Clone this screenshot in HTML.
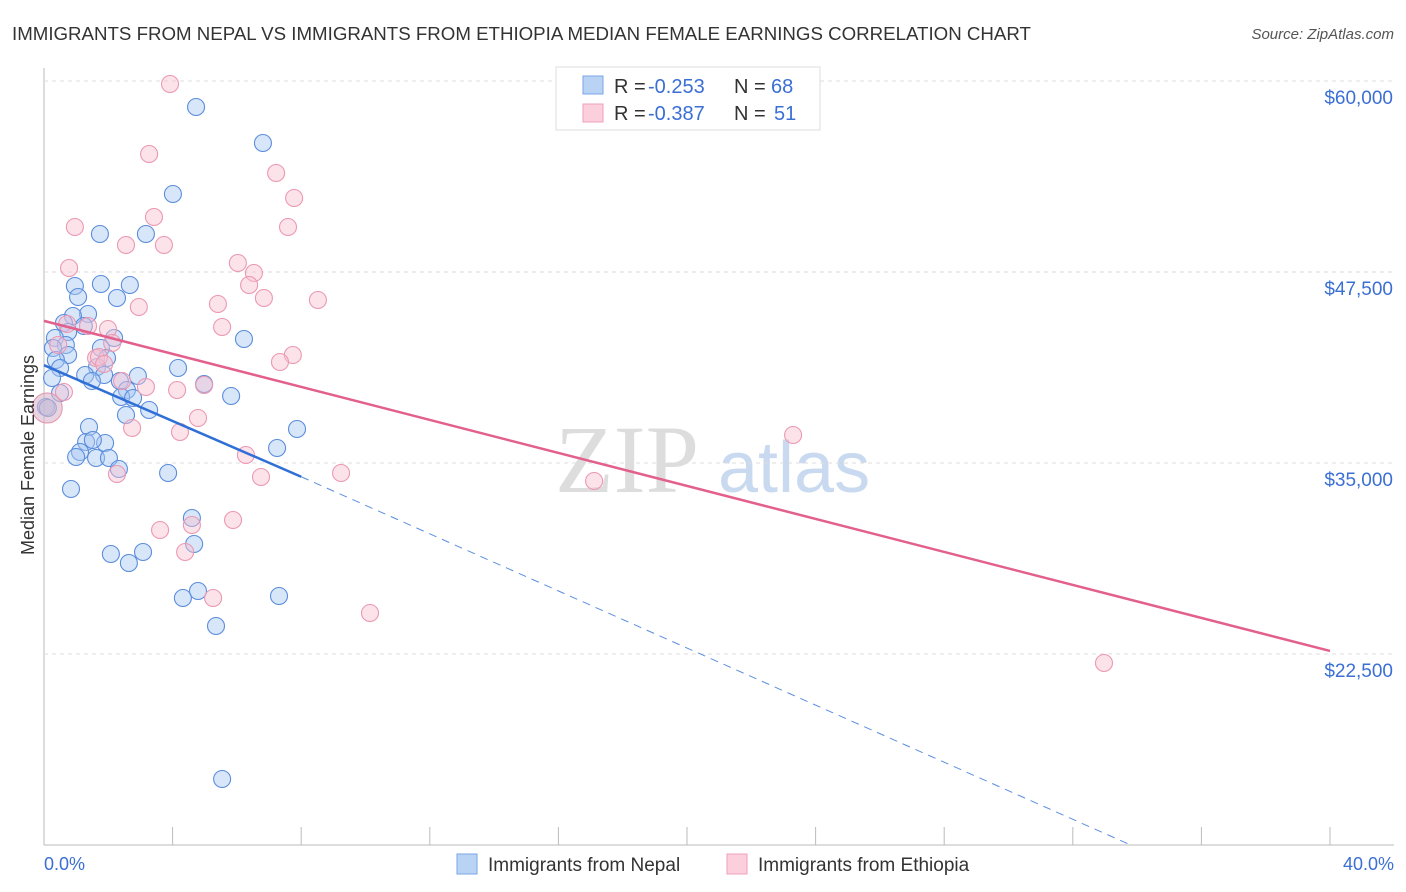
<!DOCTYPE html>
<html><head><meta charset="utf-8"><style>
body{margin:0;background:#fff;font-family:"Liberation Sans",sans-serif;}
svg{display:block}
</style></head><body>
<svg id="chart" width="1406" height="892">
<text x="12" y="40" font-size="18.7" fill="#333">IMMIGRANTS FROM NEPAL VS IMMIGRANTS FROM ETHIOPIA MEDIAN FEMALE EARNINGS CORRELATION CHART</text>
<text x="1394" y="39" font-size="15" fill="#555" font-style="italic" text-anchor="end">Source: ZipAtlas.com</text>
<text x="555" y="492" font-size="96" fill="#ddd" font-family="Liberation Serif">ZIP</text>
<text x="718" y="492" font-size="72" fill="#c9daf0">atlas</text>
<g id="grid"></g><g id="marks"></g>
<text transform="translate(34,455) rotate(-90)" font-size="18" fill="#333" text-anchor="middle">Median Female Earnings</text>
<text x="44" y="870" font-size="18" fill="#3b6fd4">0.0%</text>
<text x="1394" y="870" font-size="18" fill="#3b6fd4" text-anchor="end">40.0%</text>
<g>
<rect x="556" y="67" width="264" height="63" fill="#fff" stroke="#ddd"/>
<rect x="583" y="76" width="20" height="18" fill="#b9d3f5" stroke="#7aa5e6"/>
<rect x="583" y="104" width="20" height="18" fill="#fbcfdc" stroke="#eea0b8"/>
<text x="614" y="93" font-size="20" fill="#333">R =</text>
<text x="648" y="93" font-size="20" fill="#3b6fd4">-0.253</text>
<text x="734" y="93" font-size="20" fill="#333">N =</text>
<text x="771" y="93" font-size="20" fill="#3b6fd4">68</text>
<text x="614" y="120" font-size="20" fill="#333">R =</text>
<text x="648" y="120" font-size="20" fill="#3b6fd4">-0.387</text>
<text x="734" y="120" font-size="20" fill="#333">N =</text>
<text x="774" y="120" font-size="20" fill="#3b6fd4">51</text>
</g>
<g>
<rect x="457" y="854" width="20" height="20" fill="#b9d3f5" stroke="#7aa5e6"/>
<text x="488" y="871" font-size="19" fill="#333">Immigrants from Nepal</text>
<rect x="727" y="854" width="20" height="20" fill="#fbcfdc" stroke="#eea0b8"/>
<text x="758" y="871" font-size="19" fill="#333">Immigrants from Ethiopia</text>
</g>
</svg>
<script>
const xTicks=[0,4,8,12,16,20,24,28,32,36,40];
const yTicks=[22500,35000,47500,60000];
const yTickLabels=["$22,500","$35,000","$47,500","$60,000"];
const nepalPx=[[196,107],[263,143],[173,194],[100,234],[146,234],[75,286],[101,284],[130,285],[78,297],[117,298],[88,314],[73,316],[64,323],[84,326],[68,332],[55,338],[114,338],[244,339],[66,345],[53,348],[101,348],[68,355],[56,360],[107,358],[97,367],[178,368],[60,368],[85,375],[104,375],[138,376],[52,378],[92,381],[120,381],[204,384],[127,390],[121,397],[133,398],[231,396],[149,410],[126,415],[46,407],[89,427],[86,442],[105,443],[93,440],[277,448],[297,429],[80,452],[76,457],[96,458],[109,458],[119,469],[168,473],[71,489],[192,518],[194,544],[111,554],[143,552],[129,563],[198,591],[183,598],[279,596],[216,626],[222,779],[48,408],[60,393]];
const ethPx=[[170,84],[149,154],[276,173],[294,198],[154,217],[75,227],[288,227],[126,245],[164,245],[69,268],[238,263],[254,273],[249,285],[218,304],[264,298],[318,300],[139,307],[222,327],[88,326],[108,329],[67,324],[112,343],[293,355],[280,362],[96,358],[99,357],[122,381],[146,387],[177,390],[204,385],[198,418],[180,432],[132,428],[246,455],[117,474],[261,477],[341,473],[594,481],[793,435],[160,530],[192,525],[233,520],[185,552],[213,598],[370,613],[1104,663],[104,364],[64,392],[58,345]];
const nepalX=nepalPx.map(p=>+((p[0]-44)/1286*40).toFixed(2));
const nepalY=nepalPx.map(p=>Math.round(22500+(654-p[1])*12500/191));
const ethX=ethPx.map(p=>+((p[0]-44)/1286*40).toFixed(2));
const ethY=ethPx.map(p=>Math.round(22500+(654-p[1])*12500/191));
const nepalTrend=[[0,41400],[8,34100],[33.8,10000]];
const ethTrend=[[0,44300],[40,22700]];
const sx=v=>44+v/40*1286, sy=v=>654-(v-22500)*191/12500;
const NS="http://www.w3.org/2000/svg";
const grid=document.getElementById('grid'),marks=document.getElementById('marks');
function mk(tag,at,parent){const e=document.createElementNS(NS,tag);for(const k in at)e.setAttribute(k,at[k]);parent.appendChild(e);return e;}
let ax=mk('line',{x1:44,y1:68,x2:44,y2:845,stroke:'#bbb'},grid);


let bx=mk('line',{x1:44,y1:845,x2:1394,y2:845,stroke:'#bbb'},grid);


xTicks.forEach(t=>{let l=mk('line',{x1:sx(t),y1:827,x2:sx(t),y2:845,stroke:'#bbb'},grid);

});
yTicks.forEach((t,i)=>{let l=mk('line',{x1:44,y1:sy(t),x2:1394,y2:sy(t),stroke:'#ddd','stroke-dasharray':'4,4'},grid);


let tx=mk('text',{x:1393,y:sy(t)+23,'font-size':19,fill:'#3b6fd4','text-anchor':'end'},grid);tx.textContent=yTickLabels[i];

});
function pts(xs,ys,fill,stroke,name){xs.forEach((x,i)=>{let c=mk('circle',{cx:sx(x),cy:sy(ys[i]),r:8.5,fill:fill,'fill-opacity':0.45,stroke:stroke,'stroke-width':1.1},marks);

});}
pts(nepalX,nepalY,'#a9c8f2','#5a8ddc','nepal-point');
pts(ethX,ethY,'#f8c0d0','#eb98b2','ethiopia-point');
let big=mk('circle',{cx:sx(0.1),cy:sy(38600),r:15,fill:'#d8b8cc','fill-opacity':0.6,stroke:'#e890ab'},marks);


let t1=mk('line',{x1:sx(nepalTrend[0][0]),y1:sy(nepalTrend[0][1]),x2:sx(nepalTrend[1][0]),y2:sy(nepalTrend[1][1]),stroke:'#2f6fd6','stroke-width':2.5},marks);


let t2=mk('line',{x1:sx(nepalTrend[1][0]),y1:sy(nepalTrend[1][1]),x2:sx(nepalTrend[2][0]),y2:sy(nepalTrend[2][1]),stroke:'#5b8ee0','stroke-width':1,'stroke-dasharray':'8,6'},marks);


let t3=mk('line',{x1:sx(ethTrend[0][0]),y1:sy(ethTrend[0][1]),x2:sx(ethTrend[1][0]),y2:sy(ethTrend[1][1]),stroke:'#e3608c','stroke-width':2.5},marks);


</script>
</body></html>
